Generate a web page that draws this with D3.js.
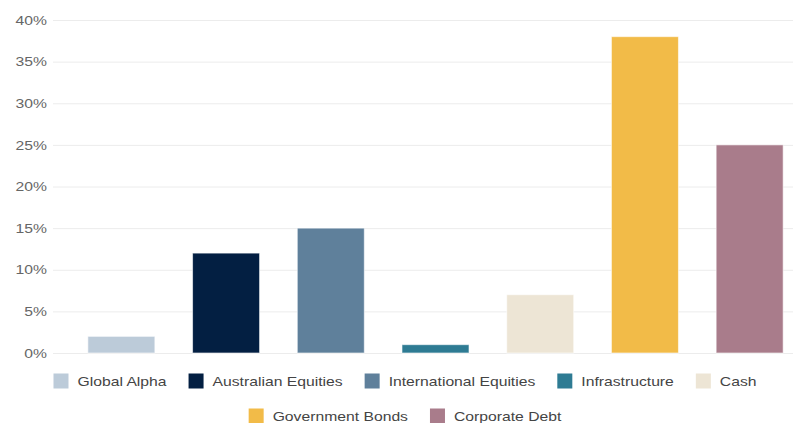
<!DOCTYPE html>
<html>
<head>
<meta charset="utf-8">
<script src="https://cdn.jsdelivr.net/npm/d3@7"></script>
<style>
  body { margin: 0; background: #fff; }
  text { font-family: "Liberation Sans", Arial, sans-serif; }
</style>
</head>
<body>
<div id="chart"></div>
<script>
// data
const categories = ["Global Alpha", "Australian Equities", "International Equities",
  "Infrastructure", "Cash", "Government Bonds", "Corporate Debt"];
const values = [2, 12, 15, 1, 7, 38, 25];
const colors = ["#bccbd9", "#031f42", "#5f809b", "#2e7b93", "#ede5d5", "#f2bb48", "#a97c8b"];
const yTicks = [0, 5, 10, 15, 20, 25, 30, 35, 40];

const W = 793, H = 423;
const stretch = 1.21; // text in the reference looks wider than normal

const svg = d3.select("#chart").append("svg")
  .attr("width", W).attr("height", H);

// scales
const x = d3.scaleBand().domain(categories).range([69, 802]).paddingInner(0.36).paddingOuter(0.18);
const y = d3.scaleLinear().domain([0, 40]).range([353, 20]);

// gridlines
svg.append("g")
  .selectAll("line")
  .data(yTicks)
  .join("line")
  .attr("x1", 53).attr("x2", W)
  .attr("y1", d => y(d) + 0.5).attr("y2", d => y(d) + 0.5)
  .attr("stroke", "#ececec").attr("stroke-width", 1);

// y axis labels
const yAxis = svg.append("g")
  .attr("transform", "translate(47,0)")
  .call(d3.axisLeft(y).tickValues(yTicks).tickFormat(d => d + "%").tickSize(0).tickPadding(0));
yAxis.select(".domain").remove();
yAxis.selectAll("text")
  .attr("font-size", 13)
  .attr("font-family", "Liberation Sans, Arial, sans-serif")
  .attr("fill", "#666")
  .attr("transform", `scale(${stretch},1)`);

// bars
svg.append("g")
  .selectAll("rect")
  .data(categories)
  .join("rect")
  .attr("x", d => x(d))
  .attr("width", x.bandwidth())
  .attr("y", (d, i) => y(values[i]))
  .attr("height", (d, i) => y(0) - y(values[i]))
  .attr("fill", (d, i) => colors[i])
  .attr("stroke", "#fff")
  .attr("stroke-opacity", 0.6)
  .attr("stroke-width", 1);

// legend, wraps into centred rows
const legend = svg.append("g");
const items = legend.selectAll("g")
  .data(categories)
  .join("g");
items.append("rect")
  .attr("width", 15).attr("height", 15)
  .attr("y", -7.5)
  .attr("fill", (d, i) => colors[i]);
items.append("text")
  .attr("transform", `translate(24,0) scale(${stretch},1)`)
  .attr("dy", "0.35em")
  .attr("font-size", 13)
  .attr("fill", "#444")
  .text(d => d);

const itemGap = 22, maxRow = 730, centre = 405;
const widths = [];
items.each(function () {
  const t = d3.select(this).select("text").node();
  widths.push(24 + t.getComputedTextLength() * stretch);
});
const rows = [[]];
let rowW = 0;
widths.forEach((w, i) => {
  const add = (rows[rows.length - 1].length ? itemGap : 0) + w;
  if (rowW + add > maxRow && rows[rows.length - 1].length) {
    rows.push([i]);
    rowW = w;
  } else {
    rows[rows.length - 1].push(i);
    rowW += add;
  }
});
const rowY = [381, 416];
rows.forEach((row, r) => {
  const total = d3.sum(row, i => widths[i]) + itemGap * (row.length - 1);
  let cx = centre - total / 2;
  row.forEach(i => {
    items.filter((d, j) => j === i).attr("transform", `translate(${cx},${rowY[r]})`);
    cx += widths[i] + itemGap;
  });
});
</script>
</body>
</html>
